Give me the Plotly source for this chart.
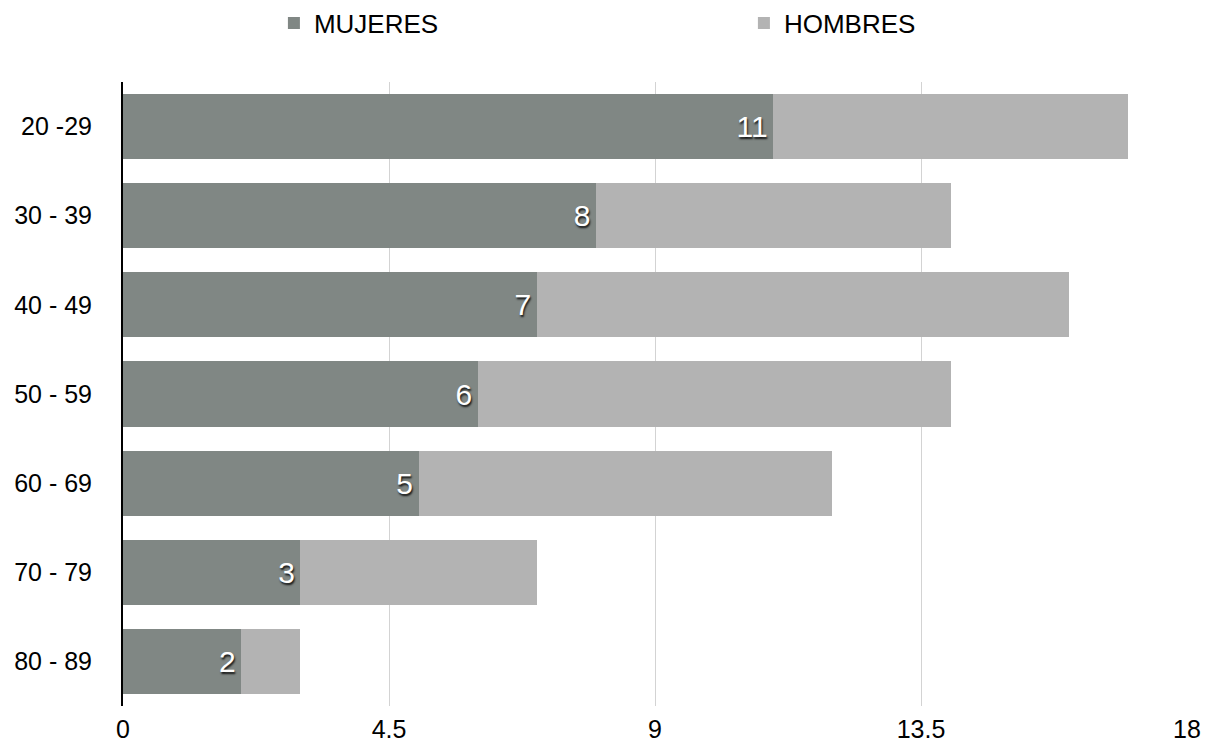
import plotly.graph_objects as go

categorias = ["20 -29", "30 - 39", "40 - 49", "50 - 59", "60 - 69", "70 - 79", "80 - 89"]
mujeres = [11, 8, 7, 6, 5, 3, 2]
hombres = [6, 6, 9, 8, 7, 4, 1]
x_ticks = [0, 4.5, 9, 13.5, 18]
x_tick_labels = ["0", "4.5", "9", "13.5", "18"]

FONT = "Liberation Sans, Helvetica, Arial, sans-serif"

fig = go.Figure()
fig.add_trace(go.Bar(
    y=categorias, x=mujeres, name="MUJERES", orientation="h",
    marker=dict(color="#808784", line=dict(width=0)),
    texttemplate="%{x}\u200a", textposition="inside", insidetextanchor="end",
    textfont=dict(color="white", size=30, family=FONT, shadow="1px 2px 2px rgba(0,0,0,0.85)"),
    cliponaxis=False,
))
fig.add_trace(go.Bar(
    y=categorias, x=hombres, name="HOMBRES", orientation="h",
    marker=dict(color="#b3b3b3", line=dict(width=0)),
    textposition="none",
))

fig.update_layout(
    barmode="stack",
    bargap=0.27,
    width=1212, height=745,
    margin=dict(l=123, r=25, t=82, b=39, autoexpand=False),
    paper_bgcolor="white", plot_bgcolor="white",
    font=dict(family=FONT, size=25, color="black"),
    showlegend=True,
    legend=dict(
        orientation="h", xref="container", yref="container",
        x=0.226, xanchor="left", y=0.969, yanchor="middle",
        entrywidth=425, entrywidthmode="pixels", font=dict(size=26, family=FONT),
        itemsizing="constant", traceorder="normal",
    ),
    xaxis=dict(
        range=[0, 18], tickvals=x_ticks, ticktext=x_tick_labels,
        showgrid=True, gridcolor="#d3d3d3", gridwidth=1,
        zeroline=False, showline=False, ticks="", ticklabelstandoff=6,
        tickfont=dict(size=25), automargin=False,
    ),
    yaxis=dict(
        categoryorder="array", categoryarray=categorias, autorange="reversed",
        showgrid=False, zeroline=False, showline=True, linecolor="black", linewidth=2,
        ticks="", ticklabelstandoff=24, tickfont=dict(size=25), automargin=False,
    ),
)

fig.write_html(
    "out.html",
    config={"displayModeBar": False},
    post_script="document.body.style.margin='0';document.body.style.overflow='hidden';",
)
